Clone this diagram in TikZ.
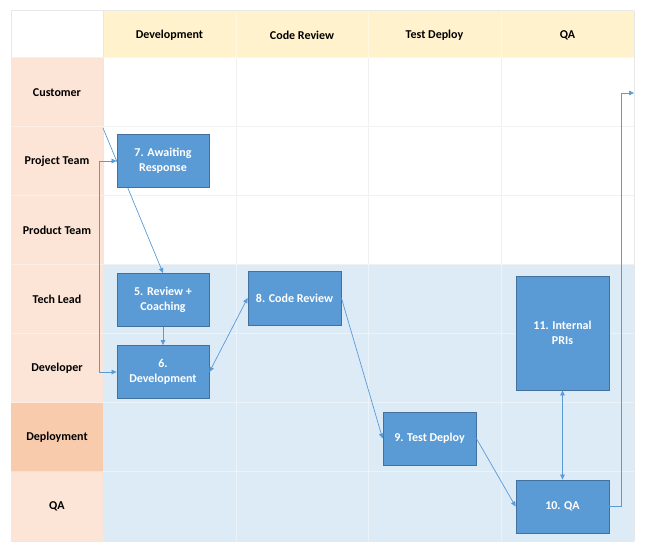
\documentclass[tikz,border=0pt]{standalone}
\usepackage{fontspec}
\setmainfont{Carlito}
\usetikzlibrary{arrows.meta,positioning}
\definecolor{headyellow}{HTML}{FFF2CC}
\definecolor{rowpeach}{HTML}{FCE4D6}
\definecolor{rowdeep}{HTML}{F8CBAD}
\definecolor{laneblue}{HTML}{DDEBF7}
\definecolor{stepfill}{HTML}{5B9BD5}
\definecolor{stepline}{HTML}{41719C}
\definecolor{gridgray}{HTML}{E8E8E8}
\tikzset{stepbox/.style={draw=stepline,fill=stepfill,text=white,line width=0.8pt,
        font=\fontsize{12}{14.6}\selectfont\bfseries,align=center,inner sep=0,
        minimum width=92pt,minimum height=53pt},
    lanetext/.style={font=\fontsize{12}{14.6}\selectfont\bfseries},
    gridline/.style={gridgray,line width=1pt},
    faintline/.style={white,line width=1pt,opacity=0.4},
    flow/.style={draw=stepfill,line width=0.7pt,-{Triangle[length=5pt,width=4.5pt]}},
    twoway/.style={flow,{Triangle[length=5pt,width=4.5pt]}-{Triangle[length=5pt,width=4.5pt]}}
}

\begin{document}
\begin{tikzpicture}[x=1pt,y=-1pt]

\useasboundingbox (0,0) rectangle (649,548);

% table
\foreach \y in {11,58,127,196,265,334,403,472,541}
    \draw [gridline] (11,\y) -- (634,\y);
\foreach \x in {11,103,236,368,501,634}
    \draw [gridline] (\x,11) -- (\x,541);

\fill [headyellow] (103.5,11) rectangle (634,58);
\fill [rowpeach] (11,58.5) rectangle (102.5,541);
\fill [rowdeep] (11,403) rectangle (102.5,472);
\fill [laneblue] (103.5,265) rectangle (634,541);

\foreach \y in {58,127,196,265,334,403,472}
    \draw [faintline] (11,\y) -- (634,\y);
\foreach \x in {236,368,501}
    \draw [faintline] (\x,11) -- (\x,541);

% column and lane titles
\foreach \x/\label [count=\i] in {
    169.5/Development,
    302/Code Review,
    434.5/Test Deploy,
    567.5/QA}
    \node [lanetext] (col\i) at (\x,35.5) {\label};

\foreach \y/\label [count=\i] in {
    92.5/Customer,
    161.5/Project Team,
    230.5/Product Team,
    299.5/Tech Lead,
    368.5/Developer,
    437.5/Deployment,
    506.5/QA}
    \node [lanetext] (row\i) at (57,\y) {\label};

\coordinate (entry) at (103,128);
\coordinate (exit) at (634,93);

\draw [flow] (entry) -- (163,273);

% steps
\node [stepbox] (awaiting) at (163,161) {7. Awaiting\\Response};
\node [stepbox] (review) at (163,300) {5. Review +\\Coaching};
\node [stepbox] (devel) at (163,372) {6.\\Development};
\node [stepbox,minimum width=93pt,minimum height=54pt] (codereview) at (294.5,298) {8. Code Review};
\node [stepbox,minimum width=93pt] (testdeploy) at (429.5,438.5) {9. Test Deploy};
\node [stepbox,minimum width=93pt,minimum height=114pt] (internal) at (562.5,333) {11. Internal\\PRIs};
\node [stepbox,minimum width=93pt] (qabox) at (562.5,506.5) {10. QA};

% connectors
\draw [twoway] (devel.west) -- ++(-17,0) |- (awaiting.west);
\draw [flow] (review) -- (devel);
\draw [twoway] (devel.east) -- (codereview.west);
\draw [flow] (codereview.east) -- (testdeploy.west);
\draw [flow] (testdeploy.east) -- (qabox.west);
\draw [twoway] (internal) -- (qabox);
\draw [flow] (qabox.east) -- ++(12,0) |- (exit);

\end{tikzpicture}
\end{document}
